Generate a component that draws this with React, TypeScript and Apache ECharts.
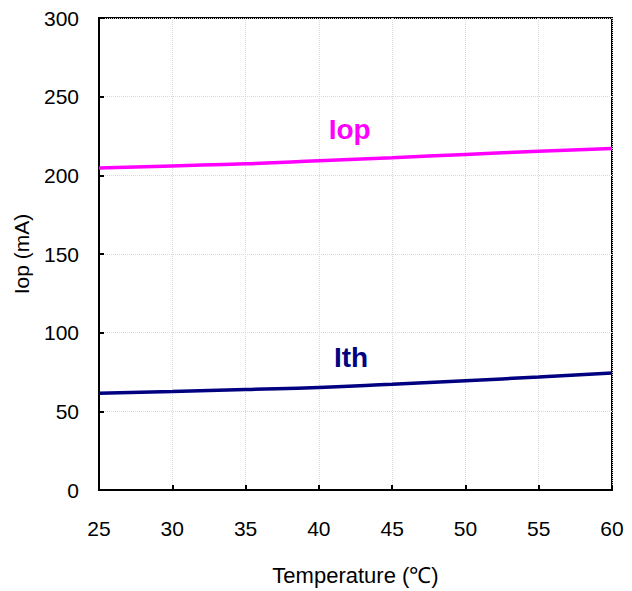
import React, { useEffect, useRef } from "react";
import * as echarts from "echarts";

const temperatures = [25, 30, 35, 40, 45, 50, 55, 60];
const iopValues = [204.7, 206.0, 207.3, 209.2, 211.2, 213.3, 215.3, 217.1];
const ithValues = [61.5, 62.6, 63.9, 65.1, 67.2, 69.5, 71.8, 74.4];
const yTicks = [0, 50, 100, 150, 200, 250, 300];
const curveLabels = ["Iop", "Ith"];
const labelAnchors = [
  [42.1, 229],
  [42.2, 84.5],
];

const FONT = "'Liberation Sans', Arial, sans-serif";

function labelPoint(idx: number, color: string) {
  return {
    symbol: "circle",
    symbolSize: 1,
    itemStyle: { color: "rgba(0,0,0,0)" },
    data: [{ coord: labelAnchors[idx], value: curveLabels[idx] }],
    label: {
      show: true,
      position: "inside",
      formatter: curveLabels[idx],
      fontFamily: FONT,
      fontSize: 28,
      fontWeight: "bold",
      color,
    },
  };
}

export default function App() {
  const ref = useRef<HTMLDivElement>(null);
  useEffect(() => {
    if (!ref.current) return;
    const chart = echarts.init(ref.current, null, { renderer: "svg" });
    chart.setOption({
      animation: false,
      backgroundColor: "#ffffff",
      grid: {
        left: 99,
        right: 20,
        top: 18,
        bottom: 100,
        show: true,
        borderColor: "#000000",
        borderWidth: 2,
      },
      xAxis: {
        type: "value",
        min: 25,
        max: 60,
        interval: 5,
        name: "Temperature (℃)",
        nameLocation: "middle",
        nameGap: 74,
        nameTextStyle: { fontFamily: FONT, fontSize: 22, color: "#000" },
        axisLine: { show: true, lineStyle: { color: "#000", width: 2 } },
        axisTick: { show: true, inside: true, length: 5, lineStyle: { color: "#000", width: 2 } },
        axisLabel: { fontFamily: FONT, fontSize: 21, color: "#000", margin: 28 },
        splitLine: { show: true, lineStyle: { color: "#d8d8d8", width: 1, type: "dotted" } },
      },
      yAxis: {
        type: "value",
        min: yTicks[0],
        max: yTicks[yTicks.length - 1],
        interval: 50,
        name: "Iop (mA)",
        nameLocation: "middle",
        nameGap: 67,
        nameTextStyle: { fontFamily: FONT, fontSize: 21, color: "#000" },
        axisLine: { show: true, lineStyle: { color: "#000", width: 2 } },
        axisTick: { show: true, inside: true, length: 5, lineStyle: { color: "#000", width: 2 } },
        axisLabel: { fontFamily: FONT, fontSize: 21, color: "#000", margin: 20 },
        splitLine: { show: true, lineStyle: { color: "#d8d8d8", width: 1, type: "dotted" } },
      },
      series: [
        {
          name: "Iop",
          type: "line",
          smooth: true,
          symbol: "none",
          data: temperatures.map((t, i) => [t, iopValues[i]]),
          lineStyle: { color: "#ff00ff", width: 3.5 },
          markPoint: labelPoint(0, "#ff00ff"),
        },
        {
          name: "Ith",
          type: "line",
          smooth: true,
          symbol: "none",
          data: temperatures.map((t, i) => [t, ithValues[i]]),
          lineStyle: { color: "#000080", width: 3.5 },
          markPoint: labelPoint(1, "#000080"),
        },
      ],
    });
    return () => chart.dispose();
  }, []);
  return (
    <div
      ref={ref}
      style={{ position: "fixed", left: 0, top: 0, width: 632, height: 591 }}
    />
  );
}
